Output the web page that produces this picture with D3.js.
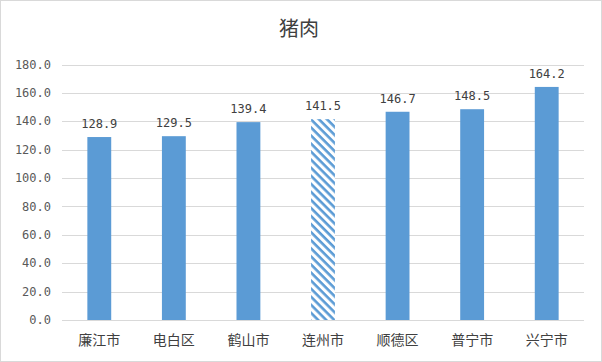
<!DOCTYPE html>
<html><head><meta charset="utf-8">
<script src="https://cdn.jsdelivr.net/npm/d3@7/dist/d3.min.js"></script>
<style>body{margin:0;background:#fff}svg{display:block}</style>
</head><body><svg id="c" width="602" height="362"></svg>
<script>
const title = "猪肉";
const categories = ["廉江市","电白区","鹤山市","连州市","顺德区","普宁市","兴宁市"];
const values = [128.9,129.5,139.4,141.5,146.7,148.5,164.2];
const highlighted = ["连州市"];
const yTicks = [0,20,40,60,80,100,120,140,160,180];

const W=602,H=362, m={l:62,r:18,t:64.5,b:42};
const svg=d3.select("#c");
const font="'Noto Sans CJK SC','DejaVu Sans',sans-serif";
const numFont="'DejaVu Sans Mono','Liberation Mono',monospace";
svg.append("rect").attr("x",0.5).attr("y",0.5).attr("width",W-1).attr("height",H-1)
  .attr("fill","#fff").attr("stroke","#d9d9d9");
const defs=svg.append("defs");
const pat=defs.append("pattern").attr("id","hatch").attr("patternUnits","userSpaceOnUse")
  .attr("width",5.7).attr("height",5.7).attr("patternTransform","rotate(45)");
pat.append("rect").attr("width",5.7).attr("height",5.7).attr("fill","#fff");
pat.append("rect").attr("x",0).attr("y",0).attr("width",5.7).attr("height",2.6).attr("fill","#5b9bd5");

const x=d3.scaleBand().domain(categories).range([m.l,W-m.r]).paddingInner(0.68).paddingOuter(0.34);
const y=d3.scaleLinear().domain([0,180]).range([H-m.b,m.t]);

const g=svg.append("g");
g.selectAll("line.grid").data(yTicks).enter().append("line")
  .attr("x1",m.l).attr("x2",W-m.r).attr("y1",d=>Math.round(y(d))+0.5).attr("y2",d=>Math.round(y(d))+0.5)
  .attr("stroke","#d9d9d9").attr("stroke-width",1);
g.selectAll("text.yt").data(yTicks).enter().append("text")
  .attr("x",51).attr("y",d=>y(d)).attr("dy","0.35em").attr("text-anchor","end")
  .attr("font-family",numFont).attr("font-size",12).attr("fill","#595959")
  .text(d=>d3.format(".1f")(d));

g.selectAll("rect.bar").data(categories).enter().append("rect")
  .attr("x",d=>x(d)).attr("width",x.bandwidth())
  .attr("y",(d,i)=>y(values[i])).attr("height",(d,i)=>y(0)-y(values[i]))
  .attr("fill",d=>highlighted.includes(d)?"url(#hatch)":"#5b9bd5");

g.selectAll("text.lab").data(categories).enter().append("text")
  .attr("x",d=>x(d)+x.bandwidth()/2).attr("y",(d,i)=>y(values[i])-9)
  .attr("text-anchor","middle").attr("font-family",numFont).attr("font-size",12).attr("fill","#404040")
  .text((d,i)=>d3.format(".1f")(values[i]));

g.selectAll("text.xt").data(categories).enter().append("text")
  .attr("x",d=>x(d)+x.bandwidth()/2).attr("y",H-m.b+20).attr("dy","0.35em")
  .attr("text-anchor","middle").attr("font-family",font).attr("font-size",14).attr("fill","#404040")
  .text(d=>d);

svg.append("text").attr("x",W/2-2).attr("y",29).attr("dy","0.35em").attr("text-anchor","middle")
  .attr("font-family",font).attr("font-size",20).attr("fill","#404040").text(title);
</script></body></html>
